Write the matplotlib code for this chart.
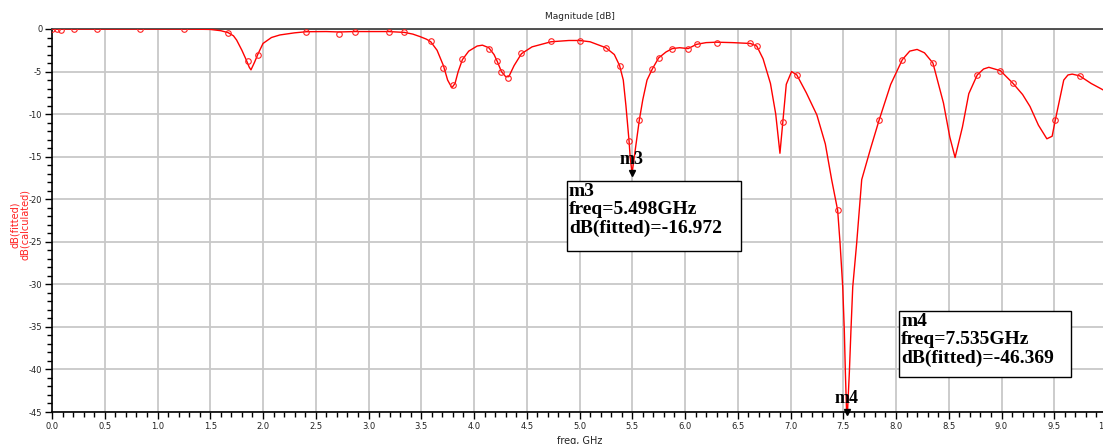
import numpy as np
import matplotlib
matplotlib.use("Agg")
from matplotlib import pyplot as plt
from matplotlib.patches import Rectangle

# fitted curve (line)
fit_freq = [0.0, 1.25, 1.5, 1.6, 1.67, 1.72, 1.75, 1.80, 1.84, 1.87, 1.886, 1.92, 1.95,
            2.0, 2.08, 2.16, 2.30, 2.41, 2.60, 2.72, 2.87, 3.0, 3.19, 3.34, 3.42, 3.49,
            3.55, 3.59, 3.65, 3.71, 3.75, 3.79, 3.82, 3.85, 3.89, 3.95, 4.03, 4.08, 4.14,
            4.19, 4.22, 4.26, 4.30, 4.33, 4.38, 4.45, 4.55, 4.73, 4.90, 5.0, 5.10, 5.25,
            5.33, 5.38, 5.415, 5.44, 5.47, 5.48, 5.498, 5.52, 5.545, 5.567, 5.60, 5.64, 5.69,
            5.75, 5.82, 5.88, 5.95, 6.03, 6.11, 6.20, 6.30, 6.45, 6.62, 6.68, 6.74, 6.81,
            6.86, 6.90, 6.93, 6.96, 7.01, 7.06, 7.15, 7.25, 7.33, 7.39, 7.447, 7.47, 7.495,
            7.51, 7.52, 7.535, 7.558, 7.573, 7.59, 7.627, 7.675, 7.76, 7.84, 7.95, 8.06,
            8.13, 8.20, 8.27, 8.35, 8.45, 8.51, 8.56, 8.63, 8.69, 8.77, 8.83, 8.88, 8.99,
            9.11, 9.20, 9.27, 9.35, 9.43, 9.48, 9.51, 9.59, 9.63, 9.67, 9.74, 9.85, 10.0]
fit_db = [0.0, 0.0, -0.05, -0.2, -0.43, -0.8, -1.3, -2.5, -3.6, -4.5, -4.8, -3.9, -3.0,
          -1.7, -1.0, -0.7, -0.45, -0.32, -0.3, -0.35, -0.3, -0.3, -0.3, -0.4, -0.6, -0.9,
          -1.2, -1.5, -2.5, -4.3, -6.0, -6.9, -6.4, -5.0, -3.6, -2.6, -2.0, -1.9, -2.2,
          -3.0, -3.8, -5.0, -5.6, -5.6, -4.3, -2.9, -2.1, -1.5, -1.35, -1.35, -1.5, -2.2,
          -3.0, -4.3, -6.0, -9.0, -13.2, -15.0, -16.972, -15.0, -12.8, -10.7, -8.3, -6.0, -4.7,
          -3.4, -2.7, -2.3, -2.2, -2.3, -1.8, -1.6, -1.55, -1.6, -1.7, -2.0, -3.5, -6.4,
          -10.0, -14.6, -10.5, -6.5, -5.0, -5.4, -7.5, -10.1, -13.5, -17.7, -21.3, -25.2, -30.3,
          -35.4, -40.3, -46.369, -40.3, -35.4, -30.3, -25.2, -17.7, -14.0, -10.7, -6.5, -3.6,
          -2.6, -2.4, -2.8, -4.0, -8.7, -12.7, -15.1, -11.5, -7.6, -5.4, -4.7, -4.5, -4.9,
          -6.4, -7.7, -9.1, -11.3, -12.9, -12.6, -10.7, -6.0, -5.4, -5.3, -5.5, -6.4, -7.4]

# calculated points (open circles)
calc_freq = [0.0, 0.05, 0.09, 0.21, 0.43, 0.83, 1.25, 1.67, 1.86, 1.95, 2.41, 2.72, 2.87,
             3.19, 3.34, 3.59, 3.71, 3.80, 3.89, 4.14, 4.22, 4.26, 4.32, 4.45, 4.73, 5.0,
             5.25, 5.38, 5.47, 5.567, 5.69, 5.75, 5.88, 6.03, 6.11, 6.30, 6.62, 6.68, 6.93,
             7.06, 7.447, 7.84, 8.06, 8.35, 8.77, 8.99, 9.11, 9.51, 9.74]
calc_db = [0.0, 0.0, -0.15, 0.0, 0.0, 0.0, 0.0, -0.45, -3.8, -3.0, -0.3, -0.6, -0.3,
           -0.3, -0.4, -1.4, -4.6, -6.6, -3.5, -2.3, -3.8, -5.1, -5.7, -2.8, -1.4, -1.4,
           -2.2, -4.3, -13.2, -10.7, -4.7, -3.4, -2.4, -2.3, -1.8, -1.6, -1.7, -2.0, -10.9,
           -5.4, -21.3, -10.7, -3.6, -4.0, -5.4, -4.9, -6.4, -10.7, -5.5]

marker_names = ["m3", "m4"]
marker_freq = [5.498, 7.535]
marker_db = [-16.972, -46.369]

W, H = 1103, 444
fig = plt.figure(figsize=(W / 100, H / 100), dpi=100)
# axes runs from x=52 to 1107 px (just past the right edge), y=29 to 412 px
ax = fig.add_axes([52 / W, (H - 412) / H, 1055 / W, 383 / H])

ax.plot(fit_freq, fit_db, color="#ff0000", lw=1.0, zorder=3)
ax.plot(calc_freq, calc_db, "o", mfc="none", mec="#ff2020", ms=4, mew=0.8, zorder=4)

ax.set_xlim(0, 10)
ax.set_ylim(-45, 0)
ax.set_xticks(np.arange(0, 10.01, 0.5))
ax.set_xticks(np.arange(0, 10.01, 0.1), minor=True)
ax.set_yticks(np.arange(-45, 0.1, 5))
ax.set_yticks(np.arange(-45, 0.1, 1), minor=True)
ax.set_xticklabels(["%.1f" % v for v in np.arange(0, 10.01, 0.5)])
ax.set_yticklabels(["%d" % v for v in np.arange(-45, 0.1, 5)])
ax.grid(which="major", color="#c8c8c8", lw=1.3, zorder=0)
ax.tick_params(which="major", direction="out", length=5, width=1, labelsize=6,
               labelcolor="#222222", pad=2)
ax.tick_params(which="minor", direction="out", length=3.5, width=1)

for side in ["left", "bottom"]:
    ax.spines[side].set_color("black")
    ax.spines[side].set_linewidth(1.2)
ax.spines["top"].set_color("#444444")
ax.spines["top"].set_linewidth(1.3)
ax.spines["right"].set_visible(False)

ax.set_title("Magnitude [dB]", fontsize=6.5, color="#222222", pad=7)
ax.set_ylabel("dB(fitted)\ndB(calculated)", color="#ff2020", fontsize=7, linespacing=1.0)
ax.yaxis.set_label_coords(-0.021, 0.49)
ax.set_xlabel("freq, GHz", fontsize=7, color="#222222")
ax.xaxis.set_label_coords(0.5, -0.062)

# markers: triangle at the point (held inside the axis), name above
for name, f, d in zip(marker_names, marker_freq, marker_db):
    y = max(d, -45)
    ax.plot(f, y, marker="v", color="black", ms=4, clip_on=False, zorder=6)
    ax.annotate(name, (f, y), xytext=(0, 14), textcoords="offset pixels",
                ha="center", va="center", fontsize=13, fontweight="bold",
                family="Liberation Serif", zorder=6)

# readout boxes (axes fraction)
boxes = [(0.488, 0.420, 0.165, 0.183), (0.803, 0.091, 0.163, 0.173)]
for (bx, by, bw, bh), name, f, d in zip(boxes, marker_names, marker_freq, marker_db):
    ax.add_patch(Rectangle((bx, by), bw, bh, transform=ax.transAxes, fc="white",
                           ec="black", lw=1.0, zorder=7))
    txt = "%s\nfreq=%.3fGHz\ndB(fitted)=%.3f" % (name, f, d)
    ax.text(bx + 0.002, by + bh - 0.006, txt, transform=ax.transAxes, ha="left", va="top",
            fontsize=14, fontweight="bold", family="Liberation Serif", linespacing=1.08,
            zorder=8)

fig.savefig("out.png", dpi=100)
